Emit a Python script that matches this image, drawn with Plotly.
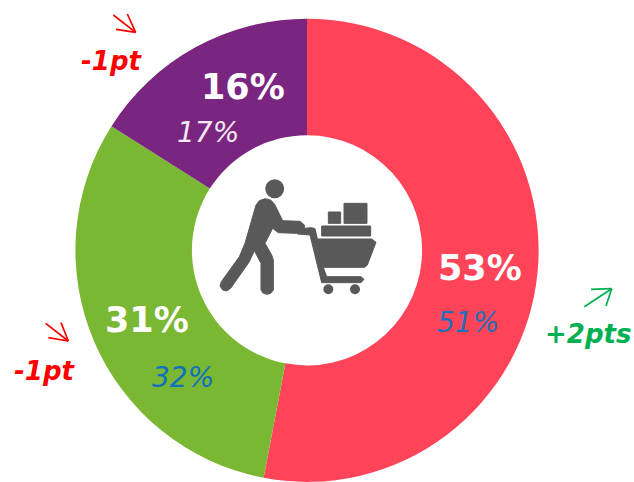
import plotly.graph_objects as go

W, H = 634, 482

segment_names = ["A", "B", "C"]
segment_values = [53, 31, 16]
segment_colors = ["#FF4459", "#7AB733", "#7A2580"]

current_labels = ["53%", "31%", "16%"]
previous_labels = ["51%", "32%", "17%"]
change_labels = ["+2pts", "-1pt", "-1pt"]

FONT = "DejaVu Sans"


def px(x):
    return x / W


def py(y):
    return 1 - y / H


def path(points, close=True):
    s = " ".join(("M" if i == 0 else "L") + f"{px(x):.5f},{py(y):.5f}" for i, (x, y) in enumerate(points))
    return s + (" Z" if close else "")


def z(points, ox=200, oy=160):
    return [(ox + a / 3, oy + b / 3) for a, b in points]


ICON = "#595959"
shapes = []


def poly(points, color=ICON):
    shapes.append(dict(type="path", xref="paper", yref="paper", path=path(points),
                       fillcolor=color, line=dict(color=color, width=1), layer="above"))


def circle(cx, cy, r, color=ICON):
    shapes.append(dict(type="circle", xref="paper", yref="paper",
                       x0=px(cx - r), x1=px(cx + r), y0=py(cy + r), y1=py(cy - r),
                       fillcolor=color, line=dict(width=0), layer="above"))


def arrow(tail, tip, h1, h2, color):
    for a, b in ((tail, tip), (h1, tip), (h2, tip)):
        shapes.append(dict(type="line", xref="paper", yref="paper",
                           x0=px(a[0]), y0=py(a[1]), x1=px(b[0]), y1=py(b[1]),
                           line=dict(color=color, width=1.7), layer="above"))


# shopper
circle(274.7, 188.7, 9.5)
poly(z([(168, 135), (178, 122), (195, 116), (212, 120), (224, 133), (248, 182), (300, 184), (313, 195), (313, 205),
        (300, 214), (290, 220), (235, 218), (218, 205), (195, 250), (215, 285), (220, 300), (220, 390),
        (212, 400), (202, 403), (190, 400), (183, 390), (183, 310), (163, 272), (148, 305), (92, 385), (80, 393),
        (68, 390), (60, 378), (64, 365), (118, 290), (135, 250)]))
# cart
poly(z([(290, 207), (335, 203), (345, 206), (352, 237), (515, 237), (528, 247), (502, 315), (495, 322),
        (370, 322), (380, 350), (483, 350), (492, 358), (483, 368), (365, 368), (330, 225), (292, 222)]))
poly(z([(385, 156), (422, 156), (422, 190), (385, 190)]))
poly(z([(432, 130), (501, 130), (501, 190), (432, 190)]))
poly(z([(365, 198), (512, 198), (512, 228), (365, 228)]))
circle(200 + 385 / 3, 160 + 388 / 3, 5)
circle(200 + 465 / 3, 160 + 388 / 3, 5)

# change arrows
arrow(*[z([p], 0, 0)[0] for p in [(340, 45), (407, 97), (382, 42), (348, 88)]], "#FF0000")
arrow(*[z([p], 0, 290)[0] for p in [(137, 100), (205, 153), (183, 98), (145, 143)]], "#FF0000")
arrow(*[z([p], 420, 240)[0] for p in [(493, 200), (575, 146), (513, 148), (558, 198)]], "#00B050")


def label(text, x, y, size, color, bold=False, italic=False):
    return dict(text=text, x=px(x), y=py(y), xref="paper", yref="paper", showarrow=False,
                xanchor="center", yanchor="middle",
                font=dict(family=FONT, size=size, color=color,
                          weight="bold" if bold else "normal",
                          style="italic" if italic else "normal"))


annotations = [
    label(current_labels[0], 480.5, 268, 35, "white", bold=True),
    label(current_labels[1], 146.5, 320, 35, "white", bold=True),
    label(current_labels[2], 243, 87, 35, "white", bold=True),
    label(previous_labels[0], 468, 322, 28, "#1F6FB8", italic=True),
    label(previous_labels[1], 183, 377, 28, "#0F70BE", italic=True),
    label(previous_labels[2], 208, 132, 28, "#F2E9F3", italic=True),
    label(change_labels[0], 588, 334, 26, "#00B050", bold=True, italic=True),
    label(change_labels[1], 44, 371, 26, "#FF0000", bold=True, italic=True),
    label(change_labels[2], 111, 61, 26, "#FF0000", bold=True, italic=True),
]

cx, cy, r = 307, 250.3, 231.6
fig = go.Figure(go.Pie(
    labels=segment_names,
    values=segment_values,
    marker=dict(colors=segment_colors, line=dict(width=0)),
    hole=0.497,
    sort=False,
    direction="clockwise",
    rotation=0,
    textinfo="none",
    hoverinfo="label+percent",
    showlegend=False,
    domain=dict(x=[px(cx - r), px(cx + r)], y=[py(cy + r), py(cy - r)]),
))
fig.update_layout(
    width=W, height=H,
    margin=dict(l=0, r=0, t=0, b=0),
    paper_bgcolor="white",
    shapes=shapes,
    annotations=annotations,
)
fig.write_html("out.html", config={"displayModeBar": False},
               post_script="document.body.style.margin='0';document.body.style.overflow='hidden';")
